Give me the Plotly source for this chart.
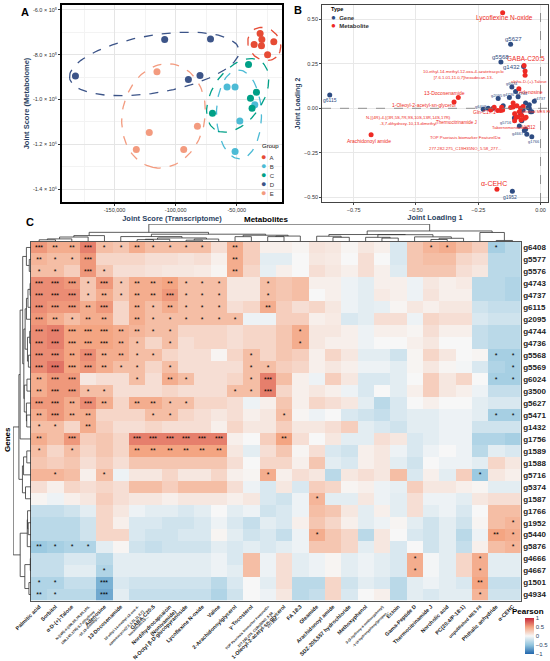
import numpy as np
import plotly.graph_objects as go

FONT = "Arial, Liberation Sans, sans-serif"
W, H = 550, 661

# ---------------- panel A: joint scores ----------------
groups = ["A", "B", "C", "D", "E"]
group_colors = ["#E64B35", "#4DBBD5", "#00A087", "#3C5488", "#F39B7F"]
score_trans = {
    "A": [-30900, -29500, -35800, -29800, -24800, -19700],
    "B": [-57950, -51400, -47500, -51400, -35250],
    "C": [-40400, -38800, -33900, -37500, -69900],
    "D": [-182000, -109000, -71500, -89600, -80100],
    "E": [-115300, -121600, -132200, -93400, -82200],
}
score_metab = {
    "A": [-705000, -732000, -754000, -760000, -800000, -742000],
    "B": [-944000, -944000, -1096000, -1232000, -1024000],
    "C": [-844000, -994000, -968000, -1039000, -1062000],
    "D": [-895000, -732000, -730000, -911000, -893000],
    "E": [-876000, -1147000, -1224000, -1224000, -1120000],
}
a_yticks = [-600000, -800000, -1000000, -1200000, -1400000]
a_yticktext = ["-6.0 × 10⁵", "-8.0 × 10⁵", "-1.0 × 10⁶", "-1.2 × 10⁶", "-1.4 × 10⁶"]
a_xticks = [-150000, -100000, -50000]
a_xticktext = ["-150,000", "-100,000", "-50,000"]

# ---------------- panel B: joint loadings ----------------
b_gene_names = ["g6408", "g5577", "g5576", "g4743", "g4737", "g6115", "g2095", "g4744",
                "g4736", "g5568", "g5569", "g6024", "g3500", "g5627", "g5471", "g1432",
                "g1756", "g1589", "g1588", "g5716", "g5374", "g1587", "g1766", "g1952",
                "g5440", "g5876", "g4666", "g4667", "g1501", "g4934"]
b_gene_x = [-0.23, -0.21, -0.19, -0.045, -0.025, -0.846, -0.17, -0.09, -0.125, -0.159,
            -0.10, -0.115, -0.15, -0.12, -0.06, -0.068, -0.055, -0.05, -0.07, -0.105,
            -0.04, -0.08, -0.035, -0.113, -0.085, -0.075, -0.065, -0.06, -0.045, -0.035]
b_gene_y = [-0.005, 0.0, 0.0, 0.02, 0.04, 0.075, 0.055, 0.065, 0.06, 0.26,
            0.095, 0.12, 0.015, 0.36, 0.03, 0.235, -0.145, 0.005, -0.01, -0.055,
            -0.02, -0.03, -0.16, -0.465, -0.10, -0.07, -0.125, -0.118, 0.0, -0.02]

b_met_names = ["Palmitic acid", "Sorbitol", "alpha-D-(+)-Talose", "N-[(4R)-4-...", "Adenosine",
               "13-Docosenamide", "10-ethyl-14-methyl-...", "GABA-C20:5", "Gln-C17:1",
               "Tabernemontanine", "Lycoflexine N-oxide", "VitB12", "2-Arachidonoylglycerol",
               "unpublished MES F6", "TOP Psoriasis biomarker FeatureID=", "1-Oleoyl-2-acetyl-sn-glycerol",
               "FA 18:3", "Thermocitrinamide J", "Arachidonoyl amide", "SDZ-205,557",
               "Methoxyphenol", "Ectoin", "Oleamide", "Gama-Peptide D", "Norcholic acid",
               "PC(20:4/P-18:1)", "Valine", "Phthalic anhydride", "Nonivamide", "α-CEHC"]
b_met_x = [-0.2, -0.172, -0.062, -0.186, -0.087, -0.33, -0.062, -0.066, -0.156, -0.098,
           -0.152, -0.078, -0.09, -0.063, -0.104, -0.347, -0.11, -0.16, -0.68, -0.152,
           -0.08, -0.095, -0.12, -0.085, -0.075, -0.07, -0.104, -0.058, -0.11, -0.175]
b_met_y = [-0.01, -0.013, 0.185, 0.006, 0.11, 0.06, 0.21, 0.24, 0.006, -0.05,
           0.537, -0.066, -0.047, -0.056, -0.07, 0.035, 0.007, -0.012, -0.148, -0.01,
           0.0, 0.015, 0.005, -0.02, -0.04, 0.01, -0.03, -0.05, 0.03, -0.455]

# ---------------- panel C: correlation heatmap ----------------
genes = b_gene_names
metabolites = [
    "Palmitic acid", "Sorbitol", "α-D-(+)-Talose",
    "<span style='font-size:3.5px'>N-[(4R)-4-[(3R,5S,7R,9S,10S,<br>13R,14S,17R)-3,7-dihydroxy<br>-10,13-dimethyl...</span>",
    "Adenosine", "13-Docosenamide",
    "<span style='font-size:3.5px'>10-ethyl-14-methyl-12-oxa-4-<br>azatetracyclo[7.6.1.01,11.0,7]<br>hexadecan-13-...</span>",
    "GABA-C20:5", "Nordihydrocapsaicin<br>(Nonivamide)", "N-Octyl β-D-glucopyranoside",
    "Lycoflexine N-oxide", "Valine", "2-Arachidonoylglycerol", "γ-Tocosterol",
    "<span style='font-size:3.5px'>TOP Psoriasis biomarker FeatureID=<br>277.282.275_C19H35NO_5.58_<br>277.282...</span>",
    "1-Oleoyl-2-acetyl-sn-glycerol", "FA 18:3", "Oleamide", "Arachidonoyl amide",
    "SDZ-205,557 hydrochloride", "Methoxyphenol",
    "<span style='font-size:3.5px'>3-(3-hydroxy-4-methoxyphenyl)<br>-1-(4-hydroxyphenyl)propan...</span>",
    "Ectoin", "Gama-Peptide D", "Thermocitrinamide J", "Norcholic acid", "PC(20:4/P-18:1)",
    "<span style='font-size:4.5px'>unpublished MES F6</span>", "Phthalic anhydride", "α-CEHC",
]
pearson = [
    [0.55, 0.45, 0.45, 0.65, 0.35, 0.3, 0.45, 0.35, 0.35, 0.35, 0.35, 0.15, 0.45, 0.25, 0.05, 0.05, 0.02, 0.12, 0.1, 0.02, 0.1, 0.05, -0.15, 0.3, 0.4, 0.45, 0.35, 0.25, -0.4, -0.3],
    [0.4, 0.35, 0.35, 0.55, 0.2, 0.2, 0.2, 0.15, 0.15, 0.12, 0.15, 0.05, 0.45, 0.25, -0.1, -0.1, 0.0, 0.1, 0.08, 0.0, 0.15, 0.0, -0.15, 0.3, 0.35, 0.35, 0.2, 0.15, -0.3, -0.3],
    [0.35, 0.35, 0.25, 0.55, 0.3, 0.15, 0.15, 0.12, 0.1, 0.1, 0.08, 0.02, 0.45, 0.2, -0.08, 0.05, 0.0, 0.15, 0.1, 0.05, 0.15, 0.05, -0.12, 0.3, 0.3, 0.3, 0.15, 0.1, -0.3, -0.3],
    [0.6, 0.6, 0.55, 0.3, 0.55, 0.3, 0.45, 0.45, 0.5, 0.35, 0.35, 0.35, 0.1, 0.1, 0.35, 0.3, 0.35, 0.05, 0.05, -0.05, -0.1, 0.05, 0.05, -0.05, 0.1, 0.05, 0.08, -0.3, -0.3, -0.35],
    [0.6, 0.6, 0.6, 0.3, 0.45, 0.3, 0.45, 0.45, 0.55, 0.35, 0.35, 0.35, 0.1, 0.1, 0.35, 0.3, 0.35, 0.0, 0.05, -0.05, -0.1, 0.08, 0.05, -0.05, 0.12, 0.05, 0.05, -0.3, -0.3, -0.35],
    [0.6, 0.55, 0.55, 0.45, 0.55, 0.2, 0.45, 0.35, 0.45, 0.35, 0.35, 0.35, 0.15, 0.2, 0.45, 0.25, 0.15, 0.2, 0.1, -0.05, -0.1, -0.08, 0.02, 0.1, 0.05, 0.1, 0.1, -0.2, -0.25, -0.25],
    [0.55, 0.45, 0.35, 0.45, 0.45, 0.2, 0.45, 0.35, 0.35, 0.35, 0.35, 0.35, 0.35, -0.05, -0.05, 0.25, 0.25, 0.05, 0.08, -0.15, -0.1, 0.15, 0.15, -0.05, 0.2, 0.15, 0.15, -0.15, -0.2, -0.2],
    [0.6, 0.65, 0.5, 0.5, 0.5, 0.45, 0.4, 0.35, 0.35, 0.2, 0.2, 0.2, 0.15, 0.2, 0.2, 0.3, 0.45, 0.1, 0.1, 0.05, -0.05, 0.05, 0.05, 0.02, 0.15, 0.05, 0.05, -0.25, -0.3, -0.3],
    [0.6, 0.65, 0.5, 0.5, 0.5, 0.45, 0.35, 0.2, 0.35, 0.15, 0.2, 0.2, 0.15, 0.2, 0.2, 0.3, 0.45, 0.1, 0.05, 0.05, -0.05, 0.0, 0.0, 0.05, 0.1, 0.0, 0.0, -0.25, -0.3, -0.3],
    [0.6, 0.6, 0.5, 0.6, 0.45, 0.45, 0.35, 0.35, 0.2, 0.15, 0.15, 0.02, 0.2, 0.35, 0.2, 0.3, 0.25, 0.05, 0.2, 0.1, -0.1, -0.1, -0.2, 0.02, 0.2, 0.1, 0.0, 0.02, -0.4, -0.4],
    [0.6, 0.7, 0.5, 0.55, 0.45, 0.35, 0.35, 0.2, 0.35, 0.15, 0.15, 0.15, 0.15, 0.35, 0.35, 0.25, 0.2, 0.05, 0.1, 0.05, -0.05, -0.05, -0.1, 0.02, 0.1, 0.02, -0.02, -0.15, -0.35, -0.4],
    [0.45, 0.55, 0.55, 0.1, 0.15, 0.15, 0.35, 0.15, 0.45, 0.35, 0.15, 0.15, 0.2, 0.35, 0.65, 0.35, 0.05, -0.05, 0.25, 0.1, -0.15, -0.15, -0.1, 0.0, 0.25, 0.1, 0.2, 0.0, -0.4, -0.4],
    [0.45, 0.55, 0.55, 0.35, 0.35, 0.15, 0.15, 0.15, 0.2, 0.15, 0.15, 0.15, 0.35, 0.35, 0.65, 0.2, 0.05, 0.1, 0.05, -0.05, -0.15, 0.0, -0.1, 0.05, 0.25, 0.1, 0.05, -0.05, -0.25, -0.25],
    [0.55, 0.55, 0.45, 0.6, 0.45, 0.2, 0.45, 0.45, 0.35, 0.35, 0.2, 0.2, 0.15, -0.05, 0.05, 0.3, 0.05, 0.2, 0.15, 0.1, -0.1, -0.3, -0.15, 0.0, 0.05, 0.0, 0.0, -0.1, -0.15, -0.15],
    [0.45, 0.55, 0.45, 0.45, 0.2, 0.2, 0.2, 0.35, 0.35, 0.2, 0.15, 0.1, 0.15, 0.05, 0.1, 0.35, 0.02, -0.05, 0.0, -0.15, -0.2, -0.25, -0.15, -0.1, -0.1, -0.05, -0.05, -0.1, -0.4, -0.4],
    [0.35, 0.35, 0.2, 0.45, 0.25, 0.15, 0.15, 0.2, 0.15, 0.15, 0.15, 0.05, 0.2, 0.1, 0.1, 0.25, 0.1, 0.1, 0.15, 0.25, -0.1, -0.15, -0.2, -0.1, -0.1, -0.05, -0.05, -0.2, -0.2, -0.2],
    [0.45, 0.35, 0.55, 0.25, 0.3, 0.2, 0.65, 0.65, 0.65, 0.65, 0.65, 0.65, 0.05, 0.0, 0.25, 0.5, 0.15, 0.0, 0.1, -0.1, -0.1, 0.15, 0.1, -0.15, -0.1, -0.05, -0.05, -0.35, -0.35, -0.4],
    [0.35, 0.2, 0.35, 0.2, 0.3, 0.2, 0.5, 0.5, 0.5, 0.5, 0.5, 0.5, 0.1, -0.1, 0.15, 0.3, 0.02, 0.15, -0.15, -0.2, 0.05, 0.1, -0.05, -0.15, -0.05, 0.0, -0.05, -0.3, -0.1, -0.15],
    [0.3, 0.25, 0.3, 0.15, 0.25, 0.15, 0.3, 0.3, 0.3, 0.3, 0.3, 0.3, 0.15, 0.0, 0.2, 0.2, 0.05, 0.3, -0.1, -0.15, 0.05, 0.1, -0.1, -0.2, 0.0, -0.05, -0.05, -0.1, 0.2, 0.1],
    [0.4, 0.4, 0.35, 0.05, 0.35, -0.05, 0.1, 0.1, 0.2, 0.1, 0.1, 0.2, 0.05, 0.02, 0.45, 0.05, 0.15, 0.1, -0.3, 0.1, 0.15, 0.1, 0.35, -0.15, 0.05, -0.1, 0.25, -0.45, 0.1, 0.05],
    [0.15, 0.05, 0.2, 0.15, 0.2, 0.15, 0.35, 0.35, 0.25, 0.35, 0.35, 0.35, 0.15, -0.05, -0.15, 0.1, -0.15, 0.25, 0.2, 0.02, 0.05, -0.05, -0.08, 0.25, 0.1, 0.1, 0.05, 0.02, -0.1, -0.1],
    [0.02, -0.05, 0.05, 0.1, 0.25, 0.15, 0.1, 0.1, 0.05, 0.1, 0.1, 0.1, 0.05, 0.1, -0.15, -0.2, -0.05, 0.4, -0.1, -0.1, 0.1, -0.05, -0.1, 0.15, -0.05, -0.05, -0.1, 0.1, 0.15, 0.15],
    [-0.25, -0.25, -0.2, -0.1, 0.2, 0.1, -0.05, -0.1, -0.1, -0.15, -0.1, 0.0, -0.1, -0.05, -0.2, -0.15, -0.05, 0.35, 0.3, 0.1, -0.1, 0.05, -0.1, 0.15, -0.1, -0.05, -0.15, 0.0, 0.35, 0.35],
    [-0.3, -0.3, -0.3, -0.2, 0.2, 0.05, -0.15, -0.15, -0.2, -0.2, -0.15, -0.05, -0.15, -0.25, -0.1, -0.15, 0.05, 0.3, 0.2, 0.05, -0.1, -0.05, 0.02, -0.1, -0.2, -0.1, -0.2, 0.02, 0.35, 0.4],
    [-0.3, -0.3, -0.3, -0.2, 0.2, 0.2, -0.15, -0.2, -0.2, -0.15, -0.15, 0.02, -0.1, -0.2, -0.15, -0.25, -0.05, 0.45, 0.3, 0.2, -0.3, 0.1, 0.0, -0.15, -0.2, -0.1, -0.3, -0.05, 0.5, 0.45],
    [-0.45, -0.4, -0.35, -0.35, -0.1, 0.02, -0.2, -0.25, -0.2, -0.2, -0.2, -0.1, -0.15, -0.1, -0.15, -0.1, -0.05, 0.3, 0.3, 0.2, -0.1, 0.1, -0.15, 0.0, -0.2, -0.1, -0.25, 0.05, 0.35, 0.4],
    [-0.25, -0.25, -0.15, -0.15, -0.3, -0.1, -0.1, -0.1, -0.1, -0.1, -0.1, -0.05, -0.15, 0.35, -0.05, 0.15, -0.1, -0.05, 0.02, -0.1, -0.05, -0.1, -0.15, 0.45, -0.02, -0.1, 0.2, 0.45, -0.1, -0.1],
    [-0.25, -0.25, -0.1, -0.1, -0.35, -0.1, -0.1, -0.1, -0.1, -0.1, -0.1, -0.05, -0.1, 0.35, -0.05, 0.15, -0.1, -0.05, 0.02, -0.1, -0.05, -0.1, -0.15, 0.45, -0.02, -0.1, 0.2, 0.45, -0.1, -0.1],
    [-0.35, -0.35, -0.25, -0.25, -0.6, -0.15, -0.2, -0.2, -0.2, -0.2, -0.2, -0.3, -0.15, 0.0, -0.1, 0.15, -0.3, -0.3, 0.2, -0.2, -0.1, -0.15, -0.3, -0.1, -0.05, -0.1, -0.15, 0.5, -0.25, -0.25],
    [-0.35, -0.3, -0.3, -0.3, -0.65, -0.1, -0.25, -0.25, -0.25, -0.25, -0.25, -0.35, -0.2, 0.0, -0.05, 0.1, -0.3, -0.25, 0.2, -0.15, 0.0, 0.05, -0.3, -0.1, -0.15, -0.1, -0.1, 0.4, -0.2, -0.2],
]
# significance level per cell: 0 none, 1 *, 2 **, 3 ***
signif = [
    "322311211110200000000000110010",
    "211300000000200000000000000000",
    "110310000000200000000000000000",
    "333131222111001000000000000000",
    "333121223111001000000000000000",
    "333230212111002000000000000000",
    "321220211111100000000000000000",
    "333332211000000010000000000000",
    "333332101000000010000000000000",
    "332322110000010000000000000011",
    "333321101000011000000000000001",
    "233000102100013000000000000011",
    "233110000000113000000000000000",
    "332320221100000000000000000000",
    "232200011000000100000000000011",
    "110200000000000000000000000000",
    "203000333333000200000000000000",
    "101000222222000000000000000000",
    "000000000000000000000000000000",
    "010010000000001000000000000100",
    "000000000000000000000000000000",
    "000000000000000001000000000000",
    "000000000000000000000000000000",
    "000000000000000000000000000001",
    "000000000000000001000000000021",
    "211100000000000000000000000001",
    "000000000000000000000001000100",
    "000010000000000000000001000100",
    "110030000000000000000000000200",
    "210030000000000000000000000100",
]


def mvee(pts, tol=1e-5):
    # Khachiyan minimum-volume enclosing ellipse
    n, d = pts.shape
    q = np.vstack([pts.T, np.ones(n)])
    u = np.ones(n) / n
    for _ in range(5000):
        x = q @ np.diag(u) @ q.T
        m = np.einsum("ij,ji->i", q.T @ np.linalg.inv(x), q)
        j = np.argmax(m)
        step = (m[j] - d - 1) / ((d + 1) * (m[j] - 1))
        new_u = (1 - step) * u
        new_u[j] += step
        if np.linalg.norm(new_u - u) < tol:
            u = new_u
            break
        u = new_u
    c = pts.T @ u
    a = np.linalg.inv(pts.T @ np.diag(u) @ pts - np.outer(c, c)) / d
    vals, vecs = np.linalg.eigh(a)
    return c, 1 / np.sqrt(vals), vecs


def adjacent_dendro(mat):
    # agglomerative clustering (complete linkage) that only joins neighbours,
    # so the drawing keeps the order of the heatmap
    mat = np.asarray(mat)
    cl = [{"m": [i], "p": float(i), "h": 0.0} for i in range(len(mat))]
    xs, ys = [], []
    while len(cl) > 1:
        best, bk = None, 0
        for k in range(len(cl) - 1):
            d = max(np.linalg.norm(mat[a] - mat[b]) for a in cl[k]["m"] for b in cl[k + 1]["m"])
            if best is None or d < best:
                best, bk = d, k
        l, r = cl[bk], cl[bk + 1]
        h = max(best, l["h"], r["h"]) + 0.02
        xs += [l["p"], l["p"], r["p"], r["p"], None]
        ys += [l["h"], h, h, r["h"], None]
        cl[bk:bk + 2] = [{"m": l["m"] + r["m"], "p": (l["p"] + r["p"]) / 2, "h": h}]
    return xs, ys, cl[0]["h"]


def dom_x(a, b):
    return [a / W, b / W]


def dom_y(top, bottom):
    return [1 - bottom / H, 1 - top / H]


def paper_note(txt, x, y, size, color="black", xanchor="center", **kw):
    fig.add_annotation(x=x / W, y=1 - y / H, xref="paper", yref="paper", text=txt, showarrow=False,
                       xanchor=xanchor, yanchor="middle",
                       font=dict(size=size, color=color, family=FONT), **kw)


fig = go.Figure()

# ---- A
a_xr = [-193000, -13000]
a_yr = [-1458000, -578000]
for g, col in zip(groups, group_colors):
    px_ = np.array(score_trans[g], float)
    py_ = np.array(score_metab[g], float)
    sx = (px_ - a_xr[0]) / (a_xr[1] - a_xr[0]) * 220
    sy = (py_ - a_yr[0]) / (a_yr[1] - a_yr[0]) * 197
    c, radii, vecs = mvee(np.column_stack([sx, sy]))
    t = np.linspace(0, 2 * np.pi, 120)
    e = vecs @ np.vstack([(radii[0] + 6) * np.cos(t), (radii[1] + 6) * np.sin(t)])
    ex = (e[0] + c[0]) / 220 * (a_xr[1] - a_xr[0]) + a_xr[0]
    ey = (e[1] + c[1]) / 197 * (a_yr[1] - a_yr[0]) + a_yr[0]
    fig.add_trace(go.Scatter(x=ex, y=ey, mode="lines", line=dict(color=col, dash="dash", width=1.3),
                             showlegend=False, hoverinfo="skip", xaxis="x", yaxis="y"))
for g, col in zip(groups, group_colors):
    fig.add_trace(go.Scatter(x=score_trans[g], y=score_metab[g], mode="markers", name=g,
                             marker=dict(color=col, size=7), xaxis="x", yaxis="y", showlegend=False))

# ---- B
fig.add_trace(go.Scatter(x=b_gene_x, y=b_gene_y, mode="markers", name="Gene", text=b_gene_names,
                         marker=dict(color="#2E4C82", size=5), xaxis="x2", yaxis="y2", showlegend=False))
fig.add_trace(go.Scatter(x=b_met_x, y=b_met_y, mode="markers", name="Metabolite", text=b_met_names,
                         marker=dict(color="#EE2A24", size=5), xaxis="x2", yaxis="y2", showlegend=False))

# ---- C heatmap
z = np.array(pearson)
stars = [["*" * int(ch) for ch in row] for row in signif]
fig.add_trace(go.Heatmap(
    z=z, x=list(range(len(metabolites))), y=list(range(len(genes))),
    text=stars, texttemplate="%{text}", textfont=dict(size=7, color="black", family=FONT),
    zmin=-1, zmax=1, xgap=0, ygap=0,
    colorscale=[[0, "#2166AC"], [0.25, "#92C5DE"], [0.5, "#F7F7F7"], [0.75, "#F4A582"], [1, "#C5273A"]],
    colorbar=dict(x=525 / W, xanchor="left", y=1 - 618 / H, yanchor="top",
                  len=36, lenmode="pixels", thickness=9, tickvals=[1, 0.5, 0, -0.5, -1],
                  ticktext=["1", "0.5", "0", "−0.5", "−1"], tickfont=dict(size=6, family=FONT),
                  outlinewidth=0, ticklen=2, xpad=0, ypad=0),
    xaxis="x3", yaxis="y3", showscale=True, hoverinfo="skip"))

cx, cy, ch = adjacent_dendro(z.T)
fig.add_trace(go.Scatter(x=cx, y=cy, mode="lines", line=dict(color="#333", width=0.8),
                         showlegend=False, hoverinfo="skip", xaxis="x4", yaxis="y4"))
rx, ry, rh = adjacent_dendro(z)
fig.add_trace(go.Scatter(x=ry, y=rx, mode="lines", line=dict(color="#333", width=0.8),
                         showlegend=False, hoverinfo="skip", xaxis="x5", yaxis="y5"))

tick_a = dict(size=5.5, family=FONT, color="#333")
fig.update_layout(
    width=W, height=H, margin=dict(l=0, r=0, t=0, b=0, autoexpand=False),
    paper_bgcolor="white", plot_bgcolor="white", font=dict(family=FONT), showlegend=False,
    xaxis=dict(domain=dom_x(62, 282), range=a_xr, tickvals=a_xticks, ticktext=a_xticktext,
               tickfont=tick_a, showgrid=True, gridcolor="#E5E5E5", gridwidth=0.6,
               minor=dict(showgrid=True, gridcolor="#F3F3F3", dtick=25000),
               showline=True, mirror=True, linecolor="black", linewidth=1.6, zeroline=False,
               ticks="outside", ticklen=2, tickcolor="#333", automargin=False,
               title=dict(text="<b>Joint Score (Transcriptome)</b>", font=dict(size=7.5), standoff=3)),
    yaxis=dict(domain=dom_y(5, 202), range=a_yr, tickvals=a_yticks, ticktext=a_yticktext,
               tickfont=tick_a, showgrid=True, gridcolor="#E5E5E5", gridwidth=0.6,
               minor=dict(showgrid=True, gridcolor="#F3F3F3", dtick=100000),
               showline=True, mirror=True, linecolor="black", linewidth=1.6, zeroline=False,
               ticks="outside", ticklen=2, tickcolor="#333", automargin=False,
               title=dict(text="<b>Joint Score (Metabolome)</b>", font=dict(size=7.5), standoff=2)),
    xaxis2=dict(domain=dom_x(322, 548), range=[-0.877, 0.03], tickvals=[-0.75, -0.5, -0.25, 0],
                tickformat=".2f", tickfont=tick_a, showgrid=True, gridcolor="#E8E8E8", gridwidth=0.6,
                showline=True, mirror=True, linecolor="#444", linewidth=0.8, zeroline=False,
                ticks="outside", ticklen=2, anchor="y2", automargin=False,
                title=dict(text="<b>Joint Loading 1</b>", font=dict(size=7.5), standoff=3)),
    yaxis2=dict(domain=dom_y(5, 202), range=[-0.526, 0.58], tickvals=[0.5, 0.25, 0, -0.25, -0.5],
                tickformat=".2f", tickfont=tick_a, showgrid=True, gridcolor="#E8E8E8", gridwidth=0.6,
                showline=True, mirror=True, linecolor="#444", linewidth=0.8, zeroline=False,
                ticks="outside", ticklen=2, anchor="x2", automargin=False,
                title=dict(text="<b>Joint Loading 2</b>", font=dict(size=7), standoff=2)),
    xaxis3=dict(domain=dom_x(31, 520.7), range=[-0.5, len(metabolites) - 0.5], anchor="y3",
                tickvals=list(range(len(metabolites))), ticktext=["<b>%s</b>" % m for m in metabolites],
                tickangle=-45,
                tickfont=dict(size=5.4, family=FONT, color="#222"), showgrid=False, zeroline=False,
                showline=True, mirror=True, linecolor="#555", linewidth=0.8, ticks="", automargin=False),
    yaxis3=dict(domain=dom_y(241.5, 600.5), range=[len(genes) - 0.5, -0.5], anchor="x3", side="right",
                tickvals=list(range(len(genes))), ticktext=["<b>%s</b>" % g for g in genes],
                tickfont=dict(size=8, family=FONT, color="#222"), showgrid=False, zeroline=False,
                showline=True, mirror=True, linecolor="#555", linewidth=0.8, ticks="", automargin=False),
    xaxis4=dict(domain=dom_x(31, 520.7), range=[-0.5, len(metabolites) - 0.5], anchor="y4",
                visible=False),
    yaxis4=dict(domain=dom_y(224, 241.5), range=[0, ch * 1.01], anchor="x4", visible=False),
    xaxis5=dict(domain=dom_x(13, 31), range=[rh * 1.01, 0], anchor="y5", visible=False),
    yaxis5=dict(domain=dom_y(241.5, 600.5), range=[len(genes) - 0.5, -0.5], anchor="x5", visible=False),
)

# reference lines in B
fig.add_shape(type="line", xref="x2", yref="y2 domain", x0=0, x1=0, y0=0, y1=1,
              line=dict(color="#777", width=0.8, dash="dash"))
fig.add_shape(type="line", xref="x2 domain", yref="y2", x0=0, x1=1, y0=0, y1=0,
              line=dict(color="#777", width=0.8, dash="dash"))

# labels in B (text, index into the point lists, shift in px, size)
met_labels = [
    ("Lycoflexine N-oxide", 10, 2, -5, 6.5),
    ("GABA-C20:5", 7, 2, 7, 6.5),
    ("10-ethyl-14-methyl-12-oxa-4-azatetracyclo<br>[7.6.1.01,11.0,7]hexadecan-13-", 6, -62, -4, 4.3),
    ("alpha-D-(+)-Talose", 2, 4, -6, 4.3),
    ("Adenosine", 4, 12, -3, 5),
    ("13-Docosenamide", 5, -14, 5, 5),
    ("1-Oleoyl-2-acetyl-sn-glycerol", 15, -30, -3, 5),
    ("Gln-C17:1", 8, -17, -5, 5),
    ("Thermocitrinamide J", 17, -44, -12, 4.5),
    ("N-[(4R)-4-[(3R,5S,7R,9S,10S,13R,14S,17R)<br>-3,7-dihydroxy-10,13-dimethyl", 3, -86, -13, 4.3),
    ("TOP Psoriasis biomarker FeatureID=<br><br>277.282.275_C19H35NO_5.58_277...", 14, -50, -22, 4.3),
    ("Tabernemontanine", 9, -6, -10, 4.3),
    ("VitB12", 11, 8, -7, 4.5),
    ("unpublished MES F6", 13, 8, 7, 4),
    ("Arachidonoyl amide", 18, -2, -6, 5),
    ("α-CEHC", 29, -3, 6, 7),
]
for txt, i, dx, dy, sz in met_labels:
    fig.add_annotation(x=b_met_x[i], y=b_met_y[i], xref="x2", yref="y2", text=txt, showarrow=False,
                       xshift=dx, yshift=dy, font=dict(size=sz, color="#EE2A24", family=FONT))
gene_labels = [
    ("g6115", 5, 0, -5, 5), ("g5627", 13, 3, 5, 6), ("g5568", 9, 0, 5, 6), ("g1432", 15, -12, -1, 6),
    ("g1952", 23, -2, -6, 5), ("g6024", 11, 0, 3, 4), ("g2095", 6, -1, 3, 4), ("g4736", 8, 0, 3, 4),
    ("g4744", 7, 4, 3, 4), ("g4737", 4, 6, 3, 4), ("g6408", 0, -2, 3, 4), ("g5716", 19, -8, -4, 4),
    ("g4667", 27, -8, -4, 4), ("g1766", 22, 2, -5, 4),
]
for txt, i, dx, dy, sz in gene_labels:
    fig.add_annotation(x=b_gene_x[i], y=b_gene_y[i], xref="x2", yref="y2", text=txt, showarrow=False,
                       xshift=dx, yshift=dy, font=dict(size=sz, color="#2E4C82", family=FONT))

# legends drawn as text keys (compact like the reference)
paper_note("Group", 260, 146, 6, xanchor="left")
for k, (g, col) in enumerate(zip(groups, group_colors)):
    paper_note("<span style='color:%s;font-size:9px'>●</span>  %s" % (col, g), 259, 157 + 9 * k, 6,
               color="#333", xanchor="left")
paper_note("<b>Type</b>", 329, 9, 5.5, xanchor="left")
paper_note("<span style='color:#2E4C82;font-size:8px'>●</span>  <b>Gene</b>", 329, 17, 6,
           color="#333", xanchor="left")
paper_note("<span style='color:#EE2A24;font-size:8px'>●</span>  <b>Metabolite</b>", 329, 25, 6,
           color="#333", xanchor="left")

# panel letters and titles
paper_note("<b>A</b>", 25, 12, 11)
paper_note("<b>B</b>", 298, 10, 11)
paper_note("<b>C</b>", 30, 222, 11)
paper_note("<b>Metabolites</b>", 266, 219, 8)
paper_note("<b>Genes</b>", 8, 440, 8, textangle=-90)
paper_note("<b>Pearson</b>", 528, 611, 8)

# the page is photographed from its top-left corner: drop the default body margin
fig.write_html("out.html", config={"displayModeBar": False},
               post_script="document.body.style.margin='0';")
